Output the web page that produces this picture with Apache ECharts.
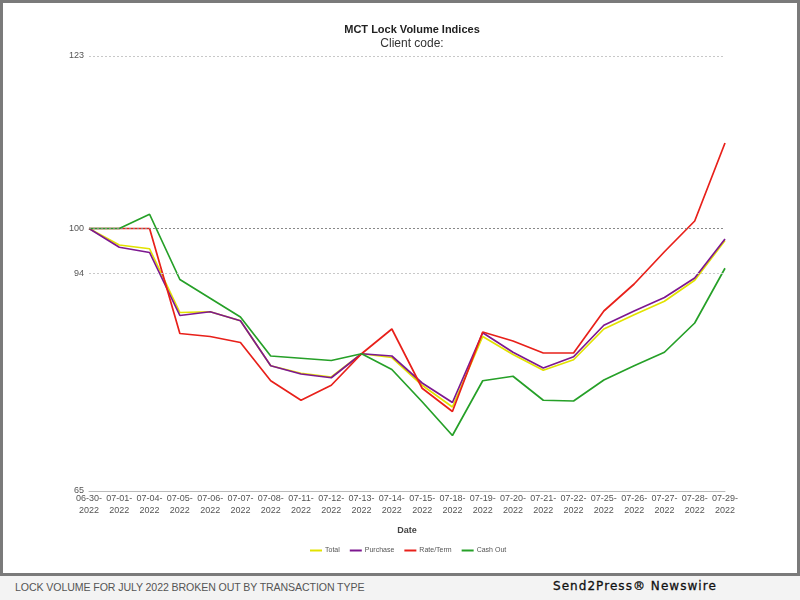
<!DOCTYPE html>
<html>
<head>
<meta charset="utf-8">
<script src="https://cdn.jsdelivr.net/npm/echarts@6/dist/echarts.min.js"></script>
<style>
  html, body { margin: 0; padding: 0; background: #f3f3f3; }
  #wrap { position: relative; width: 800px; height: 600px; overflow: hidden; }
  #frame { position: absolute; left: 0; top: 0; width: 794px; height: 570px; border: 3px solid #7a7a7a; background: #fff; }
  #chart { position: absolute; left: 0; top: 0; width: 800px; height: 600px; }
  #banner { position: absolute; left: 0; top: 576px; width: 800px; height: 24px; background: #f3f3f3; }
  #cap { position: absolute; left: 15px; top: 5px; font-family: "Liberation Sans", Arial, sans-serif; font-size: 10.6px; color: #555; letter-spacing: -0.1px; white-space: nowrap; }
  #brand { position: absolute; left: 553px; top: 3px; font-family: "DejaVu Sans", Verdana, sans-serif; font-size: 12px; font-weight: normal; color: #111; letter-spacing: 1.05px; white-space: nowrap; -webkit-text-stroke: 0.3px #111; }
</style>
</head>
<body>
<div id="wrap">
  <div id="frame"></div>
  <div id="chart"></div>
  <div id="banner"><span id="cap">LOCK VOLUME FOR JULY 2022 BROKEN OUT BY TRANSACTION TYPE</span><span id="brand">Send2Press® Newswire</span></div>
</div>
<script>
const categories = ["06-30-2022","07-01-2022","07-04-2022","07-05-2022","07-06-2022","07-07-2022","07-08-2022","07-11-2022","07-12-2022","07-13-2022","07-14-2022","07-15-2022","07-18-2022","07-19-2022","07-20-2022","07-21-2022","07-22-2022","07-25-2022","07-26-2022","07-27-2022","07-28-2022","07-29-2022"];
const total    = [100, 97.8, 97.3, 88.8, 88.9, 87.7, 81.7, 80.7, 80.2, 83.3, 82.8, 79.1, 76.2, 85.6, 83.2, 81.1, 82.5, 86.6, 88.5, 90.3, 93.1, 98.4];
const purchase = [100, 97.5, 96.8, 88.4, 88.9, 87.7, 81.7, 80.6, 80.1, 83.3, 83.0, 79.4, 76.8, 86.1, 83.5, 81.4, 82.9, 87.1, 89.0, 90.8, 93.4, 98.6];
const rateTerm = [100, 100, 100, 86.0, 85.6, 84.8, 79.7, 77.1, 79.1, 83.3, 86.6, 78.7, 75.6, 86.2, 85.0, 83.4, 83.4, 89.0, 92.6, 96.9, 101.0, 111.4];
const cashOut  = [100, 100, 101.9, 93.2, 90.7, 88.2, 83.0, 82.7, 82.4, 83.3, 81.2, 76.9, 72.4, 79.7, 80.3, 77.1, 77.0, 79.8, 81.7, 83.5, 87.4, 94.7];
const yTickLabels = [65, 94, 100, 123];
const gridValues = [123, 100, 94];

const chart = echarts.init(document.getElementById('chart'), null, { renderer: 'canvas' });
const font = '"Liberation Sans", Arial, sans-serif';

function mkSeries(name, data, color, extra) {
  return Object.assign({
    name: name, type: 'line', data: data, symbol: 'none', smooth: false,
    lineStyle: { color: color, width: 1.7 }, itemStyle: { color: color }, z: 3
  }, extra || {});
}

chart.setOption({
  animation: false,
  backgroundColor: 'transparent',
  textStyle: { fontFamily: font },
  title: {
    text: 'MCT Lock Volume Indices',
    subtext: 'Client code:',
    left: 407, textAlign: 'center', top: 19,
    itemGap: 3,
    textStyle: { fontSize: 11, fontWeight: 'bold', color: '#222', fontFamily: font },
    subtextStyle: { fontSize: 12, color: '#333', fontFamily: font }
  },
  legend: {
    bottom: 41, left: 305,
    icon: 'rect', itemWidth: 12, itemHeight: 2, itemGap: 10,
    textStyle: { fontSize: 7, color: '#555', fontFamily: font, padding: [0, 0, 0, -2] },
    data: ['Total', 'Purchase', 'Rate/Term', 'Cash Out']
  },
  grid: { left: 89, right: 75, top: 56, bottom: 109, containLabel: false },
  xAxis: {
    type: 'category', data: categories, boundaryGap: false,
    name: 'Date', nameLocation: 'middle', nameGap: 35,
    nameTextStyle: { fontSize: 9, fontWeight: 'bold', color: '#444', fontFamily: font },
    axisLine: { lineStyle: { color: '#bbb', width: 1 } },
    axisTick: { show: false },
    axisLabel: {
      interval: 0, margin: 2, fontSize: 9, color: '#555', lineHeight: 12, fontFamily: font,
      formatter: v => v.slice(0, 6) + '\n' + v.slice(6)
    },
    splitLine: { show: false }
  },
  yAxis: {
    type: 'value', min: 65, max: 123,
    axisLine: { show: false }, axisTick: { show: false },
    axisLabel: { customValues: yTickLabels, fontSize: 9, color: '#555', margin: 5, fontFamily: font },
    splitLine: { show: false }
  },
  series: [
    mkSeries('Total', total, '#e2e200', {
      markLine: {
        silent: true, symbol: 'none', label: { show: false },
        data: gridValues.map(v => ({
          yAxis: v,
          lineStyle: { type: [2, 2], width: 1, color: v === 100 ? '#888' : '#c8c8c8' }
        }))
      }
    }),
    mkSeries('Purchase', purchase, '#7d1890'),
    mkSeries('Rate/Term', rateTerm, '#e8201a'),
    mkSeries('Cash Out', cashOut, '#26a028')
  ]
});
</script>
</body>
</html>
